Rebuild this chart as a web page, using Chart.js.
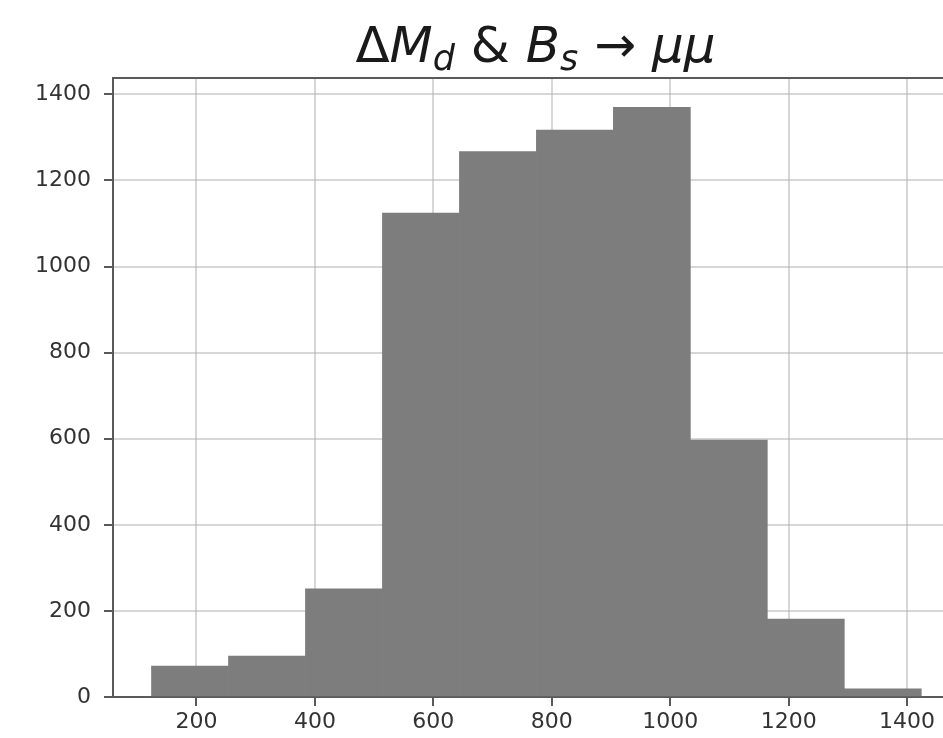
<!DOCTYPE html>
<html>
<head>
<meta charset="utf-8">
<script src="https://cdn.jsdelivr.net/npm/chart.js@4/dist/chart.umd.min.js"></script>
<style>
    html, body { margin: 0; padding: 0; background: #fff; overflow: hidden; }
    #histChart { display: block; }
</style>
</head>
<body>
<canvas id="histChart" width="958" height="738"></canvas>
<script>
// Histogram bin edges and counts
const binEdges = [124, 254, 384, 514, 644, 774, 904, 1034, 1164, 1294, 1424];
const binCounts = [72, 95, 251, 1124, 1267, 1317, 1370, 597, 181, 19];
const xTicks = [200, 400, 600, 800, 1000, 1200, 1400];
const yTicks = [0, 200, 400, 600, 800, 1000, 1200, 1400];

// Title pieces: [text, italic, subscript]
const titleParts = [
    ['\u0394', false, false], ['M', true, false], ['d', true, true],
    [' & ', false, false], ['B', true, false], ['s', true, true],
    [' \u2192 ', false, false], ['\u03bc\u03bc', true, false]
];

const barData = binCounts.map((c, i) => ({ x: (binEdges[i] + binEdges[i + 1]) / 2, y: c }));

const font = 'DejaVu Sans';
const spineColor = '#5a5a5a';

// Draw the mathtext-like title and the top spine
const decorPlugin = {
    id: 'decor',
    afterDraw(chart) {
        const ctx = chart.ctx;
        const area = chart.chartArea;
        ctx.save();
        ctx.strokeStyle = spineColor;
        ctx.lineWidth = 2;
        ctx.beginPath();
        ctx.moveTo(area.left, area.top);
        ctx.lineTo(area.right, area.top);
        ctx.stroke();

        const size = 50;
        const fontFor = (p) => (p[1] ? 'oblique ' : '') + Math.round(p[2] ? size * 0.7 : size) + 'px "' + font + '"';
        let total = 0;
        titleParts.forEach(p => { ctx.font = fontFor(p); total += ctx.measureText(p[0]).width; });
        let x = (area.left + area.right) / 2 - total / 2;
        const baseline = 62;
        ctx.fillStyle = '#1a1a1a';
        ctx.textBaseline = 'alphabetic';
        titleParts.forEach(p => {
            ctx.font = fontFor(p);
            ctx.fillText(p[0], x, p[2] ? baseline + 8 : baseline);
            x += ctx.measureText(p[0]).width;
        });
        ctx.restore();
    }
};

const axisGrid = {
    color: 'rgba(176,176,176,0.5)',
    lineWidth: 2,
    tickLength: 9,
    tickColor: spineColor,
    tickWidth: 2,
    offset: false
};

const ctx = document.getElementById('histChart').getContext('2d');
new Chart(ctx, {
    type: 'bar',
    data: {
        datasets: [{
            data: barData,
            backgroundColor: '#7d7d7d',
            borderWidth: 0,
            barPercentage: 1,
            categoryPercentage: 1
        }]
    },
    options: {
        responsive: false,
        animation: false,
        layout: { padding: { top: 78, right: 0, left: 0, bottom: 0 } },
        plugins: {
            legend: { display: false },
            tooltip: { enabled: false },
            title: { display: false }
        },
        scales: {
            x: {
                type: 'linear',
                min: 59,
                max: 1486,
                offset: false,
                z: 1,
                afterBuildTicks: (s) => { s.ticks = xTicks.map(v => ({ value: v })); },
                afterFit: (s) => { s.height = 41; },
                grid: axisGrid,
                border: { color: spineColor, width: 2 },
                ticks: {
                    color: '#333',
                    padding: 3,
                    maxRotation: 0,
                    callback: (v) => String(v),
                    font: { family: font, size: 22 }
                }
            },
            y: {
                type: 'linear',
                min: 0,
                max: 1438,
                z: 1,
                afterBuildTicks: (s) => { s.ticks = yTicks.map(v => ({ value: v })); },
                afterFit: (s) => { s.width = 113; },
                grid: axisGrid,
                border: { color: spineColor, width: 2 },
                ticks: {
                    color: '#333',
                    padding: 13,
                    callback: (v) => String(v),
                    font: { family: font, size: 22 }
                }
            }
        }
    },
    plugins: [decorPlugin]
});
</script>
</body>
</html>
